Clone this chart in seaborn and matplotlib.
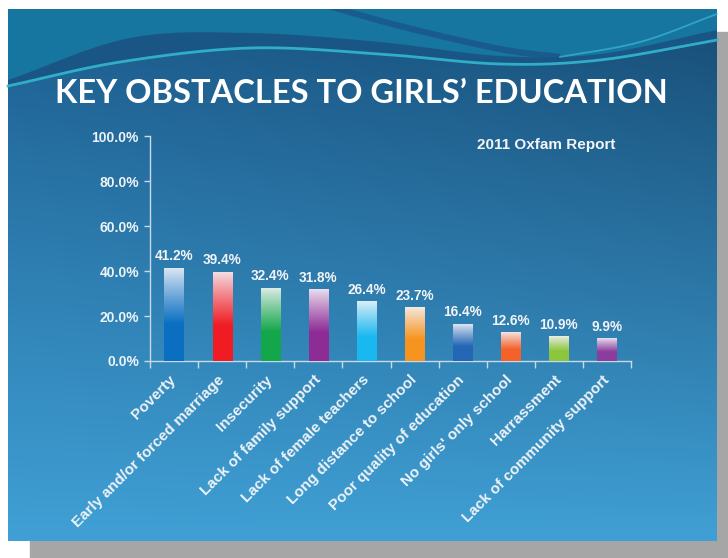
import numpy as np
import pandas as pd
import matplotlib
matplotlib.use("Agg")
import matplotlib.pyplot as plt
import matplotlib.colors as mcolors
from matplotlib.patches import Rectangle, Polygon
import seaborn as sns

# ---------------- data ----------------
categories = ["Poverty", "Early and/or forced marriage", "Insecurity",
              "Lack of family support", "Lack of female teachers",
              "Long distance to school", "Poor quality of education",
              "No girls' only school", "Harrassment", "Lack of community support"]
values = [41.2, 39.4, 32.4, 31.8, 26.4, 23.7, 16.4, 12.6, 10.9, 9.9]
bar_colors = ["#0b6fc2", "#f01c24", "#14a64a", "#8e2c95", "#1ab8f0",
              "#f79420", "#2467b5", "#f4622a", "#8cc63e", "#8b3d9e"]
y_ticks = [0, 20, 40, 60, 80, 100]
y_tick_labels = ["0.0%", "20.0%", "40.0%", "60.0%", "80.0%", "100.0%"]
title = "KEY OBSTACLES TO GIRLS\u2019 EDUCATION"
subtitle = "2011 Oxfam Report"

df = pd.DataFrame({"cat": categories, "val": values})

W, H = 728, 558
fig = plt.figure(figsize=(W / 100, H / 100), dpi=100)
fig.patch.set_facecolor("white")

# ---------------- slide background (pixel coords) ----------------
bg = fig.add_axes([0, 0, 1, 1])
bg.set_xlim(0, W)
bg.set_ylim(H, 0)
bg.axis("off")

# shadow
bg.add_patch(Rectangle((30, 32), W - 30, H - 32, color="#a6a6a6", zorder=0))

sx0, sx1, sy0, sy1 = 8, 717, 9, 541
ny, nx = 200, 200
yy, xx = np.mgrid[0:1:ny * 1j, 0:1:nx * 1j]
top = np.array(mcolors.to_rgb("#1c5f93"))
bot = np.array(mcolors.to_rgb("#40a0d5"))
t = np.clip(yy, 0, 1) ** 0.85
img = top[None, None, :] * (1 - t[..., None]) + bot[None, None, :] * t[..., None]
dark = np.clip(0.16 * xx * (1 - yy) + 0.05 * (1 - yy), 0, 1)
img = img * (1 - dark[..., None])
bg.imshow(img, extent=(sx0, sx1, sy1, sy0), aspect="auto", zorder=1, interpolation="bilinear")


def spline(pts, n=40):
    """Catmull-Rom curve through decorative points (pixel coords)."""
    p = np.array(pts, dtype=float)
    p = np.vstack([2 * p[0] - p[1], p, 2 * p[-1] - p[-2]])
    out = []
    for i in range(1, len(p) - 2):
        p0, p1, p2, p3 = p[i - 1], p[i], p[i + 1], p[i + 2]
        s = np.linspace(0, 1, n, endpoint=False)[:, None]
        out.append(0.5 * ((2 * p1) + (-p0 + p2) * s + (2 * p0 - 5 * p1 + 4 * p2 - p3) * s ** 2
                          + (-p0 + 3 * p1 - 3 * p2 + p3) * s ** 3))
    out.append(p[-2][None, :])
    return np.vstack(out)


slide_clip = Rectangle((sx0, sy0), sx1 - sx0, sy1 - sy0, transform=bg.transData)

# wave decoration on top of the slide
L = spline([(sx0, 86), (120, 62), (250, 48), (380, 54), (500, 64), (600, 60), (sx1, 40)])
A = spline([(sx0, 80), (130, 38), (250, 33), (380, 42), (500, 56), (600, 54), (sx1, 30)])
teal = np.vstack([[[sx0, sy0]], L, [[sx1, sy0]]])
bg.add_patch(Polygon(teal, closed=True, facecolor="#17769f", edgecolor="none", zorder=2))
band = np.vstack([A, L[::-1]])
bg.add_patch(Polygon(band, closed=True, facecolor="#1a5384", edgecolor="none", alpha=0.9, zorder=2))
streak = spline([(315, 2), (400, 26), (500, 49), (560, 57)])
ln, = bg.plot(streak[:, 0], streak[:, 1], color="#1a5386", lw=4.5, alpha=0.75, zorder=3,
              solid_capstyle="butt")
ln.set_clip_path(slide_clip)
bg.plot(L[:, 0], L[:, 1], color="#33b7cf", lw=2.0, alpha=0.9, zorder=3)
up = spline([(560, 57), (640, 42), (sx1, 14)])
bg.plot(up[:, 0], up[:, 1], color="#45c3dc", lw=1.3, alpha=0.6, zorder=3)

# ---------------- chart ----------------
ax = fig.add_axes([150 / W, 1 - 361 / H, 481 / W, 225 / H])
ax.set_facecolor("none")
sns.barplot(data=df, x="cat", y="val", hue="cat", palette=bar_colors,
            width=0.4, legend=False, ax=ax, saturation=1, zorder=2)

for patch, col, v in zip(ax.patches, bar_colors, values):
    x0, y0 = patch.get_x(), patch.get_y()
    w, h = patch.get_width(), patch.get_height()
    c = np.array(mcolors.to_rgb(col))
    white = np.array([0.96, 0.96, 0.98]) * 0.9 + c * 0.1
    f = np.linspace(0, 1, 200)  # 0 = top, 1 = bottom
    m = np.clip(f / 0.6, 0, 1) ** 0.9
    m = m[:, None]
    grad = white * (1 - m) + c * m
    ax.imshow(grad[:, None, :], extent=(x0, x0 + w, y0, y0 + h), origin="upper",
              aspect="auto", zorder=3, interpolation="bilinear")
    ax.text(x0 + w / 2, v + 2.2, f"{v:.1f}%", ha="center", va="bottom",
            color="#f2f4f8", fontsize=9.8, fontweight="bold", family="Liberation Sans", zorder=4)

ax.set_xlim(-0.5, len(categories) - 0.5)
ax.set_ylim(0, 100)
ax.set_xlabel("")
ax.set_ylabel("")

axis_col = "#c9d9e8"
for s in ["top", "right"]:
    ax.spines[s].set_visible(False)
for s in ["left", "bottom"]:
    ax.spines[s].set_color(axis_col)
    ax.spines[s].set_linewidth(1.0)

ax.set_yticks(y_ticks)
ax.set_yticklabels(y_tick_labels)
ax.tick_params(axis="y", colors=axis_col, length=4, width=1, pad=4, labelcolor="#eef3f8")
for lab in ax.get_yticklabels():
    lab.set_fontweight("bold")
    lab.set_fontsize(10)
    lab.set_family("Liberation Sans")

ax.set_xticks(range(len(categories)))
ax.set_xticklabels(categories)
ax.set_xticks(np.arange(-0.5, len(categories) + 0.5, 1), minor=True)
ax.tick_params(axis="x", which="major", length=0, pad=12, labelcolor="#eef3f8")
ax.tick_params(axis="x", which="minor", length=5, width=1, color=axis_col)
for lab in ax.get_xticklabels():
    lab.set_rotation(45)
    lab.set_ha("right")
    lab.set_va("center")
    lab.set_rotation_mode("anchor")
    lab.set_fontweight("bold")
    lab.set_fontsize(11)
    lab.set_family("Liberation Sans")

# ---------------- texts ----------------
fig.text(361 / W, 1 - 103 / H, title, ha="center", va="baseline", color="white",
         fontsize=23.5, fontweight="bold", family="Lato")
fig.text(546 / W, 1 - 145 / H, subtitle, ha="center", va="center", color="#f2f4f8",
         fontsize=11, fontweight="bold", family="Liberation Sans")

fig.savefig("out.png", dpi=100)
